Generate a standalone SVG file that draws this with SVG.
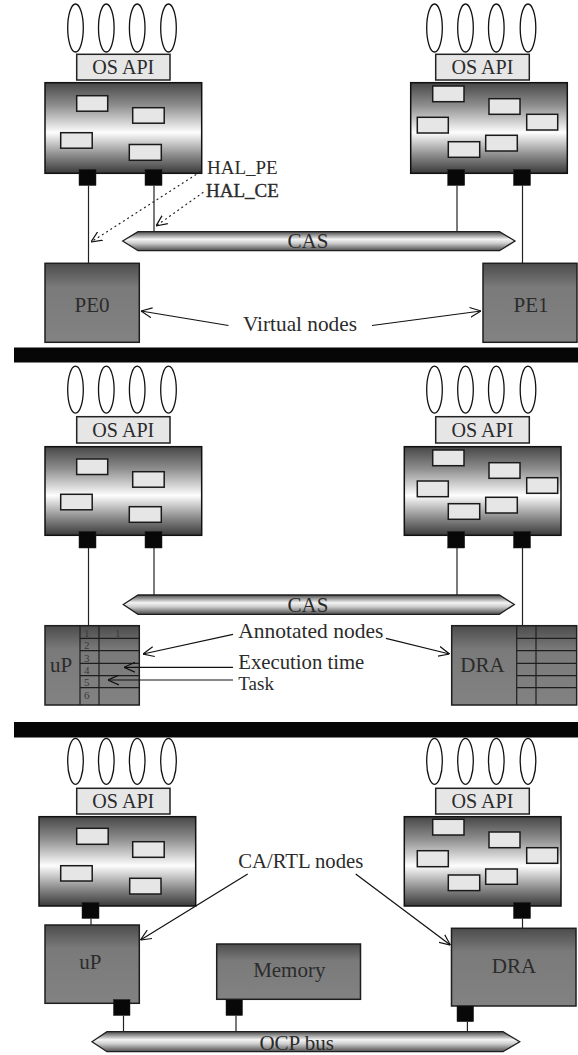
<svg xmlns="http://www.w3.org/2000/svg" width="578" height="1055" viewBox="0 0 578 1055">
  <defs>
    <!-- cylinder-like shading for the OS/task containers -->
    <linearGradient id="gCyl" x1="0" y1="0" x2="0" y2="1">
      <stop offset="0" stop-color="#474747"/>
      <stop offset="0.25" stop-color="#8e8e8e"/>
      <stop offset="0.55" stop-color="#fdfdfd"/>
      <stop offset="0.8" stop-color="#8c8c8c"/>
      <stop offset="1" stop-color="#3a3a3a"/>
    </linearGradient>
    <!-- hardware node shading -->
    <linearGradient id="gNode" x1="0" y1="0" x2="0" y2="1">
      <stop offset="0" stop-color="#4c4c4c"/>
      <stop offset="0.3" stop-color="#7a7a7a"/>
      <stop offset="1" stop-color="#828282"/>
    </linearGradient>
    <!-- bus shading -->
    <linearGradient id="gBus" x1="0" y1="0" x2="0" y2="1">
      <stop offset="0" stop-color="#4a4a4a"/>
      <stop offset="0.4" stop-color="#f4f4f4"/>
      <stop offset="0.6" stop-color="#cfcfcf"/>
      <stop offset="1" stop-color="#4e4e4e"/>
    </linearGradient>
    <marker id="arr" viewBox="0 0 10 10" refX="10" refY="5" markerWidth="11" markerHeight="11" markerUnits="userSpaceOnUse" orient="auto">
      <path d="M0,0.5 L10,5 L0,9.5" fill="none" stroke="#111" stroke-width="1.1"/>
    </marker>
    <style>
      .th { fill: #fff; stroke: #111; stroke-width: 1.3; }
      .api { fill: #e6e6e6; stroke: #222; stroke-width: 1.5; }
      .cyl { fill: url(#gCyl); stroke: #111; stroke-width: 1.5; }
      .task { fill: #e6e6e6; stroke: #1a1a1a; stroke-width: 1.5; }
      .port { fill: #080808; stroke: #222; stroke-width: 0.5; }
      .node { fill: url(#gNode); stroke: #1e1e1e; stroke-width: 1.5; }
      .bus { fill: url(#gBus); stroke: #1e1e1e; stroke-width: 1.3; }
      .bar { fill: #060606; }
      .wire { stroke: #222; stroke-width: 1.2; fill: none; }
      .ptr { stroke: #111; stroke-width: 1.2; fill: none; marker-end: url(#arr); }
      .dot { stroke: #222; stroke-width: 1.2; fill: none; stroke-dasharray: 1 4; stroke-linecap: round; marker-end: url(#arr); }
      .grid { stroke: #1e1e1e; stroke-width: 1.2; fill: none; }
      text { font-family: "Liberation Serif", "Times New Roman", serif; fill: #2b2b2b; }
      .lbl { font-size: 21px; }
      .mid { text-anchor: middle; }
      .num { font-size: 11px; fill: #3a3a3a; }
    </style>
  </defs>

  <!-- ===================== virtual level ===================== -->
  <g id="v-left-stack">
    <ellipse class="th" cx="75.5" cy="28" rx="7.8" ry="24"/>
    <ellipse class="th" cx="106.3" cy="28" rx="7.8" ry="24"/>
    <ellipse class="th" cx="137.2" cy="28" rx="7.8" ry="24"/>
    <ellipse class="th" cx="168.5" cy="28" rx="7.8" ry="24"/>
    <rect class="api" x="76.7" y="54.3" width="93.3" height="25.7"/>
    <text class="lbl mid" x="123.3" y="74" textLength="62" lengthAdjust="spacingAndGlyphs">OS API</text>
    <rect class="cyl" x="45" y="82.7" width="156.7" height="90.6"/>
    <rect class="task" x="76.7" y="95.7" width="31" height="15.5"/>
    <rect class="task" x="132.7" y="107.7" width="31.5" height="15.5"/>
    <rect class="task" x="60.7" y="132.7" width="31.5" height="15.5"/>
    <rect class="task" x="129.3" y="144.5" width="32" height="15.8"/>
    <rect class="port" x="79" y="169.5" width="17" height="16"/>
    <rect class="port" x="145" y="169.5" width="17" height="16"/>
  </g>
  <g id="v-right-stack">
    <ellipse class="th" cx="434.5" cy="28" rx="7.8" ry="24"/>
    <ellipse class="th" cx="465.5" cy="28" rx="7.8" ry="24"/>
    <ellipse class="th" cx="496.3" cy="28" rx="7.8" ry="24"/>
    <ellipse class="th" cx="528" cy="28" rx="7.8" ry="24"/>
    <rect class="api" x="435.7" y="54.3" width="93.6" height="25.7"/>
    <text class="lbl mid" x="482.5" y="74" textLength="62" lengthAdjust="spacingAndGlyphs">OS API</text>
    <rect class="cyl" x="410.7" y="82.7" width="156.6" height="90.6"/>
    <rect class="task" x="432.7" y="86" width="31.3" height="15.7"/>
    <rect class="task" x="489" y="98.7" width="31" height="15.6"/>
    <rect class="task" x="417.3" y="117.3" width="31" height="15.7"/>
    <rect class="task" x="526.7" y="114.3" width="31" height="15.7"/>
    <rect class="task" x="485.7" y="135.3" width="31.6" height="15.7"/>
    <rect class="task" x="448.3" y="141.7" width="31.4" height="15.6"/>
    <rect class="port" x="447.7" y="169.5" width="17" height="16"/>
    <rect class="port" x="513.5" y="169.5" width="17" height="16"/>
  </g>
  <g id="v-cas">
    <polygon class="bus" points="122.7,241 138,231.7 499.5,231.7 515,241 499.5,250.7 138,250.7"/>
    <text class="lbl mid" x="308" y="248.3" font-size="20">CAS</text>
  </g>
  <g id="v-pe0">
    <rect class="node" x="45" y="263.3" width="94.3" height="79"/>
    <text class="lbl mid" x="92" y="312">PE0</text>
  </g>
  <g id="v-pe1">
    <rect class="node" x="483" y="263.3" width="94" height="79"/>
    <text class="lbl mid" x="531" y="312">PE1</text>
  </g>
  <g id="v-labels">
    <text x="207" y="174" font-size="19">HAL_PE</text>
    <text x="206" y="196.5" font-size="19" stroke="#2b2b2b" stroke-width="0.35">HAL_CE</text>
    <text class="lbl mid" x="300" y="331" textLength="114" lengthAdjust="spacingAndGlyphs">Virtual nodes</text>
  </g>

  <rect id="sep-1" class="bar" x="14" y="347.5" width="564" height="15"/>

  <!-- ===================== annotated level ===================== -->
  <g id="a-left-stack">
    <ellipse class="th" cx="75.5" cy="389.7" rx="7.8" ry="23.5"/>
    <ellipse class="th" cx="106.3" cy="389.7" rx="7.8" ry="23.5"/>
    <ellipse class="th" cx="137.2" cy="389.7" rx="7.8" ry="23.5"/>
    <ellipse class="th" cx="168.5" cy="389.7" rx="7.8" ry="23.5"/>
    <rect class="api" x="76.7" y="416.7" width="93.3" height="26.3"/>
    <text class="lbl mid" x="123.3" y="437" textLength="62" lengthAdjust="spacingAndGlyphs">OS API</text>
    <rect class="cyl" x="45" y="446.7" width="156.7" height="88.6"/>
    <rect class="task" x="76.7" y="459" width="31" height="15.5"/>
    <rect class="task" x="132.7" y="471.7" width="31.5" height="15.5"/>
    <rect class="task" x="60.7" y="494.3" width="31.5" height="15.5"/>
    <rect class="task" x="129.3" y="506.7" width="32" height="15.6"/>
    <rect class="port" x="79" y="531.5" width="17" height="16.5"/>
    <rect class="port" x="145" y="531.5" width="17" height="16.5"/>
  </g>
  <g id="a-right-stack">
    <ellipse class="th" cx="434.5" cy="389.7" rx="7.8" ry="23.5"/>
    <ellipse class="th" cx="465.5" cy="389.7" rx="7.8" ry="23.5"/>
    <ellipse class="th" cx="496.3" cy="389.7" rx="7.8" ry="23.5"/>
    <ellipse class="th" cx="528" cy="389.7" rx="7.8" ry="23.5"/>
    <rect class="api" x="435.7" y="416.7" width="93.6" height="26.3"/>
    <text class="lbl mid" x="482.5" y="437" textLength="62" lengthAdjust="spacingAndGlyphs">OS API</text>
    <rect class="cyl" x="404.3" y="446.7" width="156.7" height="88.6"/>
    <rect class="task" x="432.7" y="450" width="31.3" height="15.7"/>
    <rect class="task" x="489" y="462.7" width="31" height="15.6"/>
    <rect class="task" x="417.3" y="481" width="31" height="15.7"/>
    <rect class="task" x="526.7" y="477.7" width="31" height="15.6"/>
    <rect class="task" x="485.7" y="497.3" width="31.6" height="15.7"/>
    <rect class="task" x="448.3" y="503.7" width="31.4" height="15.6"/>
    <rect class="port" x="447.7" y="531.5" width="17" height="16.5"/>
    <rect class="port" x="513.5" y="531.5" width="17" height="16.5"/>
  </g>
  <g id="a-cas">
    <polygon class="bus" points="123.3,604.5 138,595 499.3,595 514.3,604.5 499.3,614.3 138,614.3"/>
    <text class="lbl mid" x="308" y="611.5" font-size="20">CAS</text>
  </g>
  <g id="a-up">
    <rect class="node" x="45" y="625.7" width="94.3" height="79.3"/>
    <path class="grid" d="M80,625.7 V705 M99,625.7 V705 M80,638.3 H139.3 M80,650.7 H139.3 M80,663.3 H139.3 M80,675.7 H139.3 M80,687.7 H139.3"/>
    <text class="lbl mid" x="61" y="671.5">uP</text>
    <text class="num" x="84" y="636.5">1</text>
    <text class="num" x="84" y="649">2</text>
    <text class="num" x="84" y="661.5">3</text>
    <text class="num" x="84" y="674">4</text>
    <text class="num" x="84" y="686.2">5</text>
    <text class="num" x="84" y="698.5">6</text>
    <text class="num" x="115" y="636.5">1</text>
  </g>
  <g id="a-dra">
    <rect class="node" x="451.7" y="625.7" width="125" height="79.3"/>
    <path class="grid" d="M516.7,625.7 V705 M536,625.7 V705 M516.7,638.3 H576.7 M516.7,650.7 H576.7 M516.7,663.3 H576.7 M516.7,675.7 H576.7 M516.7,687.7 H576.7"/>
    <text class="lbl mid" x="482.5" y="671.5">DRA</text>
  </g>
  <g id="a-labels">
    <text class="lbl" x="238.3" y="637.5" textLength="145" lengthAdjust="spacingAndGlyphs">Annotated nodes</text>
    <text x="238.3" y="668.5" font-size="20" textLength="126" lengthAdjust="spacingAndGlyphs">Execution time</text>
    <text x="238.3" y="690" font-size="19">Task</text>
  </g>

  <rect id="sep-2" class="bar" x="14" y="722" width="564" height="15.5"/>

  <!-- ===================== CA/RTL level ===================== -->
  <g id="r-left-stack">
    <ellipse class="th" cx="75.5" cy="761.3" rx="7.8" ry="23"/>
    <ellipse class="th" cx="106.3" cy="761.3" rx="7.8" ry="23"/>
    <ellipse class="th" cx="137.2" cy="761.3" rx="7.8" ry="23"/>
    <ellipse class="th" cx="168.5" cy="761.3" rx="7.8" ry="23"/>
    <rect class="api" x="76.7" y="788.3" width="93.3" height="25.7"/>
    <text class="lbl mid" x="123.3" y="808" textLength="62" lengthAdjust="spacingAndGlyphs">OS API</text>
    <rect class="cyl" x="39" y="816.7" width="156.7" height="89.3"/>
    <rect class="task" x="76.7" y="828.3" width="31.5" height="16"/>
    <rect class="task" x="132.7" y="841.7" width="31.5" height="15.6"/>
    <rect class="task" x="60.7" y="865.7" width="31.5" height="15.3"/>
    <rect class="task" x="129.7" y="878.3" width="31.3" height="15.7"/>
    <rect class="port" x="82" y="902.5" width="17" height="16"/>
  </g>
  <g id="r-right-stack">
    <ellipse class="th" cx="434.5" cy="761.3" rx="7.8" ry="23"/>
    <ellipse class="th" cx="465.5" cy="761.3" rx="7.8" ry="23"/>
    <ellipse class="th" cx="496.3" cy="761.3" rx="7.8" ry="23"/>
    <ellipse class="th" cx="528" cy="761.3" rx="7.8" ry="23"/>
    <rect class="api" x="435.7" y="788.3" width="93.6" height="25.7"/>
    <text class="lbl mid" x="482.5" y="808" textLength="62" lengthAdjust="spacingAndGlyphs">OS API</text>
    <rect class="cyl" x="404.3" y="816.7" width="156.7" height="89.3"/>
    <rect class="task" x="432.7" y="819.3" width="31.3" height="15.7"/>
    <rect class="task" x="489" y="832" width="31" height="15.7"/>
    <rect class="task" x="417.3" y="850.7" width="31" height="16"/>
    <rect class="task" x="526.7" y="847.7" width="31" height="15.6"/>
    <rect class="task" x="485.7" y="869" width="31.6" height="15.3"/>
    <rect class="task" x="448.3" y="875" width="31.4" height="15.6"/>
    <rect class="port" x="513.5" y="902.5" width="17" height="16"/>
  </g>
  <g id="r-up">
    <rect class="node" x="45" y="925" width="94.3" height="78.3"/>
    <text class="lbl mid" x="90.3" y="969">uP</text>
    <rect class="port" x="113.5" y="999.5" width="16.5" height="16"/>
  </g>
  <g id="r-memory">
    <rect class="node" x="216.7" y="944" width="143.8" height="55.3"/>
    <text class="lbl mid" x="289.3" y="977">Memory</text>
    <rect class="port" x="226" y="999.5" width="16.5" height="16"/>
  </g>
  <g id="r-dra">
    <rect class="node" x="451.5" y="928.3" width="124.5" height="77.7"/>
    <text class="lbl mid" x="514" y="973.3">DRA</text>
    <rect class="port" x="457" y="1006" width="16.6" height="15.7"/>
  </g>
  <g id="r-ocp">
    <polygon class="bus" points="92,1041.7 107,1031.7 503,1031.7 519.7,1041.7 503,1051.7 107,1051.7"/>
    <text class="lbl mid" x="296.7" y="1050" font-size="20">OCP bus</text>
  </g>
  <g id="r-labels">
    <text class="lbl" x="238.3" y="868" textLength="125" lengthAdjust="spacingAndGlyphs">CA/RTL nodes</text>
  </g>

  <!-- ===================== connectors ===================== -->
  <g id="connectors">
    <!-- virtual level wiring -->
    <line class="wire" x1="88.5" y1="185.5" x2="88.5" y2="263.3"/>
    <line class="wire" x1="154" y1="185.5" x2="154" y2="231.7"/>
    <line class="wire" x1="457" y1="185.5" x2="457" y2="231.7"/>
    <line class="wire" x1="522.5" y1="185.5" x2="522.5" y2="263.3"/>
    <line class="dot" x1="200" y1="172" x2="91" y2="242"/>
    <line class="dot" x1="203" y1="192.5" x2="156" y2="226"/>
    <line class="ptr" x1="228.5" y1="325.5" x2="141" y2="311"/>
    <line class="ptr" x1="372" y1="325.5" x2="481" y2="311"/>
    <!-- annotated level wiring -->
    <line class="wire" x1="88.5" y1="548" x2="88.5" y2="625.7"/>
    <line class="wire" x1="154" y1="548" x2="154" y2="595"/>
    <line class="wire" x1="457" y1="548" x2="457" y2="595"/>
    <line class="wire" x1="522.5" y1="548" x2="522.5" y2="625.7"/>
    <line class="ptr" x1="233" y1="634.3" x2="143" y2="654"/>
    <line class="ptr" x1="386" y1="638.3" x2="449.5" y2="654"/>
    <line class="ptr" x1="233" y1="667.3" x2="124" y2="667.3"/>
    <line class="ptr" x1="233" y1="680" x2="108" y2="680"/>
    <!-- CA/RTL level wiring -->
    <line class="wire" x1="91" y1="918.5" x2="91" y2="925"/>
    <line class="wire" x1="522.5" y1="918.5" x2="522.5" y2="928.3"/>
    <line class="wire" x1="123.5" y1="1015.5" x2="123.5" y2="1031.7"/>
    <line class="wire" x1="236" y1="1015.5" x2="236" y2="1031.7"/>
    <line class="wire" x1="467.4" y1="1021.7" x2="467.4" y2="1031.7"/>
    <line class="ptr" x1="247.7" y1="874" x2="140.5" y2="940"/>
    <line class="ptr" x1="355.7" y1="874" x2="450.4" y2="945"/>
  </g>
</svg>
